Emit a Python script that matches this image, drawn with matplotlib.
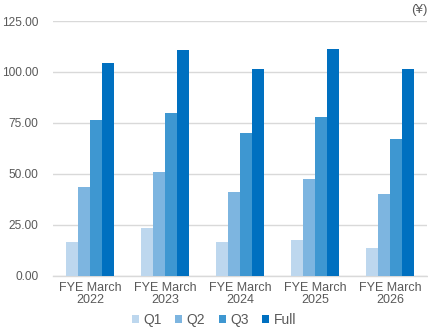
import matplotlib
matplotlib.use("Agg")
import matplotlib.pyplot as plt
import numpy as np

plt.rcParams['font.family'] = ['Liberation Sans', 'DejaVu Sans']

categories = ["FYE March\n2022", "FYE March\n2023", "FYE March\n2024", "FYE March\n2025", "FYE March\n2026"]
series_names = ["Q1", "Q2", "Q3", "Full"]
q1 = [16.7, 23.5, 16.7, 17.6, 13.7]
q2 = [43.6, 51.0, 41.2, 47.5, 40.2]
q3 = [76.5, 80.0, 70.1, 78.0, 67.2]
full = [104.4, 110.8, 101.5, 111.3, 101.5]
yticks = [0, 25, 50, 75, 100, 125]

colors = ["#BDD7EE", "#7DB5E0", "#3E97D1", "#0070C0"]
text_color = "#595959"

fig = plt.figure(figsize=(4.28, 3.30), dpi=100)
ax = fig.add_axes([52.5/428, 1-276/330, 375/428, 255/330])

x = np.arange(len(categories))
w = 0.16
for i, (vals, c, name) in enumerate(zip([q1, q2, q3, full], colors, series_names)):
    ax.bar(x + (i - 1.5) * w, vals, width=w, color=c, label=name, zorder=3)

ax.set_xlim(-0.5, len(categories) - 0.5)
ax.set_ylim(0, 125)
ax.set_yticks(yticks)
ax.set_yticklabels([f"{v:.2f}" for v in yticks], fontsize=8.6)
ax.set_xticks(x)
ax.set_xticklabels(categories, linespacing=1.0, fontsize=9)
ax.grid(axis='y', color="#D9D9D9", linewidth=1, zorder=0)
for s in ['top', 'right', 'left']:
    ax.spines[s].set_visible(False)
ax.spines['bottom'].set_color("#D9D9D9")
ax.spines['bottom'].set_linewidth(1)
ax.tick_params(axis='both', length=0, colors=text_color)
ax.tick_params(axis='y', pad=10)
ax.tick_params(axis='x', pad=4)

fig.text(427/428, 1-10/330, "(¥)", ha='right', va='center', fontsize=9.5, color=text_color)

leg = fig.legend(loc='center', bbox_to_anchor=(0.5, 1-320/330), ncol=4, frameon=False,
                 fontsize=10, handlelength=0.5, handleheight=0.5, handletextpad=0.3,
                 columnspacing=1.0, labelcolor=text_color)

fig.savefig("out.png", dpi=100)
